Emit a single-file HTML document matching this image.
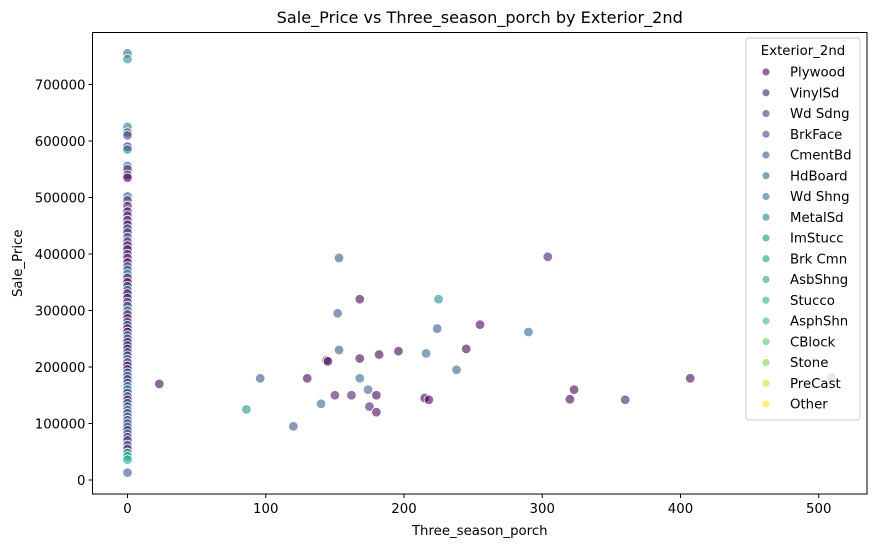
<!DOCTYPE html>
<html><head><meta charset="utf-8">
<style>
body{margin:0;background:#fff;}
svg{display:block;font-family:"DejaVu Sans","Liberation Sans",sans-serif;}
</style></head>
<body>
<svg id="chart" width="877" height="547">
<g id="plot"></g>
</svg>
<script>
const categories=["Plywood","VinylSd","Wd Sdng","BrkFace","CmentBd","HdBoard","Wd Shng","MetalSd","ImStucc","Brk Cmn","AsbShng","Stucco","AsphShn","CBlock","Stone","PreCast","Other"];
const colors=["#440154","#481a6c","#472f7d","#414487","#39568c","#31688e","#2a788e","#23888e","#21918c","#1fa088","#22a884","#29af7f","#3dbc74","#5ec962","#84d44b","#d8e219","#fde725"];
const xTicks=[0,100,200,300,400,500];
const yTicks=[0,100000,200000,300000,400000,500000,600000,700000];
const porchX=[23,96,86,120,130,140,150,153,152,153,144,145,162,168,168,168,174,175,180,180,182,196,215,218,216,224,225,238,245,255,290,304,320,323,360,407,509];
const porchY=[170000,180000,125000,95000,180000,135000,150000,393000,295000,230000,212000,210000,150000,320000,180000,215000,160000,130000,150000,120000,222000,228000,145000,142000,224000,268000,320000,195000,232000,275000,262000,395000,143000,160000,142000,180000,182000];
const porchC=[0,4,8,4,0,5,1,4,4,4,2,0,1,0,5,0,5,1,0,0,0,0,0,0,5,4,7,5,0,0,5,1,0,0,1,0,4];
const zeroY=[755000,745000,625000,615000,610000,590000,585000,556000,550000,540000,535000,502000,495000,485000,475000,468000,460000,452000,445000,438000,430000,422000,415000,408000,400000,393000,385000,378000,372000,365000,358000,350000,343000,336000,330000,322000,315000,308000,300000,293000,286000,280000,274000,268000,262000,256000,250000,244000,238000,232000,226000,220000,214000,208000,202000,196000,190000,184000,178000,172000,166000,160000,154000,148000,142000,136000,130000,124000,118000,112000,106000,100000,94000,88000,82000,76000,70000,62000,55000,48000,42000,36000,13000];
const zeroC=[5,8,6,4,3,0,7,4,2,1,0,4,3,1,0,2,1,0,3,1,4,2,1,0,2,1,0,3,4,8,1,0,2,4,1,0,3,2,7,1,0,4,2,1,0,5,3,1,2,0,4,1,6,3,0,2,5,4,1,3,7,4,2,5,1,3,4,6,2,4,5,3,4,1,5,3,2,4,1,9,8,10,4];

const L=92.5,R=867,T=32.5,B=494;
const xs=v=>127.5+v*1.3825;
const ys=v=>480-v*0.000565;
const svg=document.getElementById('chart');
const plot=document.getElementById('plot');
const NS="http://www.w3.org/2000/svg";
function mk(tag,attrs,parent){const e=document.createElementNS(NS,tag);for(const k in attrs)e.setAttribute(k,attrs[k]);(parent||svg).appendChild(e);return e;}

function dot(x,y,c){
  const e=mk('circle',{cx:xs(x),cy:ys(y),r:4.8,fill:colors[c],'fill-opacity':0.6,stroke:'#fff','stroke-width':0.8},plot);
  
  
}
zeroY.forEach((y,i)=>dot(0,y,zeroC[i]));
porchX.forEach((x,i)=>dot(x,porchY[i],porchC[i]));

const frame=mk('rect',{x:L,y:T,width:R-L,height:B-T,fill:'none',stroke:'#000','stroke-width':1});



xTicks.forEach(v=>{
  mk('line',{x1:xs(v),x2:xs(v),y1:B,y2:B+4,stroke:'#000'});
  const t=mk('text',{x:xs(v),y:B+19,'text-anchor':'middle','font-size':13.3,fill:'#000'});
  t.textContent=v;
  
  
});
yTicks.forEach(v=>{
  mk('line',{x1:L-4,x2:L,y1:ys(v),y2:ys(v),stroke:'#000'});
  const t=mk('text',{x:L-7,y:ys(v)+5,'text-anchor':'end','font-size':13.3,fill:'#000'});
  t.textContent=v;
  
  
});

const title=mk('text',{x:(L+R)/2,y:23,'text-anchor':'middle','font-size':16.1,fill:'#000'});
title.textContent="Sale_Price vs Three_season_porch by Exterior_2nd";


const xl=mk('text',{x:(L+R)/2,y:535,'text-anchor':'middle','font-size':13.3,fill:'#000'});
xl.textContent="Three_season_porch";


const yl=mk('text',{x:22,y:(T+B)/2,'text-anchor':'middle','font-size':13.3,fill:'#000',transform:'rotate(-90 22 '+((T+B)/2)+')'});
yl.textContent="Sale_Price";



const lg=mk('g',{});


mk('rect',{x:746,y:38,width:114,height:382,rx:3,fill:'#fff','fill-opacity':0.8,stroke:'#ccc'},lg);
const lt=mk('text',{x:803,y:55,'text-anchor':'middle','font-size':13.3,fill:'#000'},lg);
lt.textContent="Exterior_2nd";
categories.forEach((c,i)=>{
  const y=72+i*20.75;
  const g=mk('g',{},lg);
  
  
  mk('circle',{cx:766,cy:y,r:3.6,fill:colors[i],'fill-opacity':0.6},g);
  const t=mk('text',{x:790,y:y+4.7,'font-size':13.3,fill:'#000'},g);
  t.textContent=c;
});
</script>
</body></html>
